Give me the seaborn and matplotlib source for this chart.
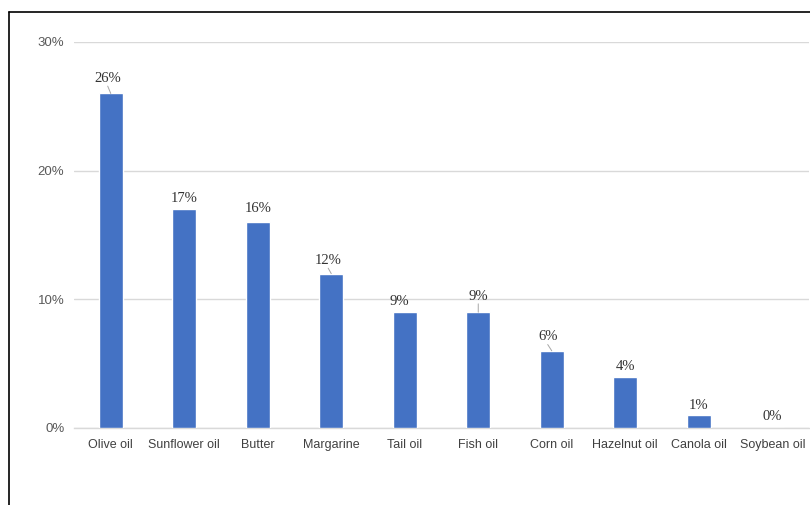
import matplotlib
matplotlib.use("Agg")
import matplotlib.pyplot as plt
import matplotlib.lines as mlines
import seaborn as sns
import pandas as pd

# Share of respondents by type of fat/oil used
categories = ["Olive oil", "Sunflower oil", "Butter", "Margarine", "Tail oil",
              "Fish oil", "Corn oil", "Hazelnut oil", "Canola oil", "Soybean oil"]
shares = [26, 17, 16, 12, 9, 9, 6, 4, 1, 0]
y_ticks = [0, 10, 20, 30]
y_tick_labels = ["0%", "10%", "20%", "30%"]

# Placement of each data label (points from the bar top) and leader-line flags
label_dy = [10.8, 7.9, 10.0, 9.4, 7.9, 11.5, 10.0, 7.2, 7.2, 8.6]
label_dx = [-2.2, 0, 0, -2.2, -3.6, 0, -2.9, 0, 0, 0]
leader = [True, False, False, True, False, True, True, False, False, False]

df = pd.DataFrame({"category": categories, "share": shares})

sns.set_style("white")
plt.rcParams["font.family"] = ["Liberation Sans", "DejaVu Sans"]

fig = plt.figure(figsize=(8.10, 5.05), dpi=100)
ax = fig.add_axes([74 / 810, 77 / 505, 735 / 810, 386 / 505])

sns.barplot(data=df, x="category", y="share", color="#4472C4", width=0.32,
            saturation=1, ax=ax, zorder=3)

ax.set_ylim(0, 30)
ax.set_yticks(y_ticks)
ax.set_yticklabels(y_tick_labels, fontsize=9.5, color="#595959")
ax.tick_params(axis="x", labelsize=9, labelcolor="#404040", length=0, pad=8)
ax.tick_params(axis="y", length=0, pad=7)
ax.set_xlabel("")
ax.set_ylabel("")
ax.set_xlim(-0.5, len(categories) - 0.5)
ax.yaxis.grid(True, color="#d9d9d9", linewidth=1, zorder=0)
for side in ["left", "right", "top"]:
    ax.spines[side].set_visible(False)
ax.spines["bottom"].set_color("#d9d9d9")
ax.spines["bottom"].set_linewidth(1)

# Data labels, with small leader lines where the label sits farther away
for i, (v, dy, dx, lead) in enumerate(zip(shares, label_dy, label_dx, leader)):
    ax.annotate(f"{v}%", xy=(i, v), xytext=(dx, dy), textcoords="offset points",
                ha="center", va="center", fontsize=10.5, color="#333333",
                family=["Liberation Serif", "DejaVu Serif"])
    if lead:
        ax.annotate("", xy=(i, v), xytext=(dx, dy - 5.5),
                    textcoords="offset points",
                    arrowprops=dict(arrowstyle="-", color="#a6a6a6", lw=0.7,
                                    shrinkA=0, shrinkB=0))

# Chart frame edges on the left and top
fig.add_artist(mlines.Line2D([9 / 810, 9 / 810], [0, 1 - 12 / 505],
                             transform=fig.transFigure, color="black", lw=1.2))
fig.add_artist(mlines.Line2D([9 / 810, 1], [1 - 12 / 505, 1 - 12 / 505],
                             transform=fig.transFigure, color="black", lw=1.2))

fig.savefig("out.png", dpi=100)
